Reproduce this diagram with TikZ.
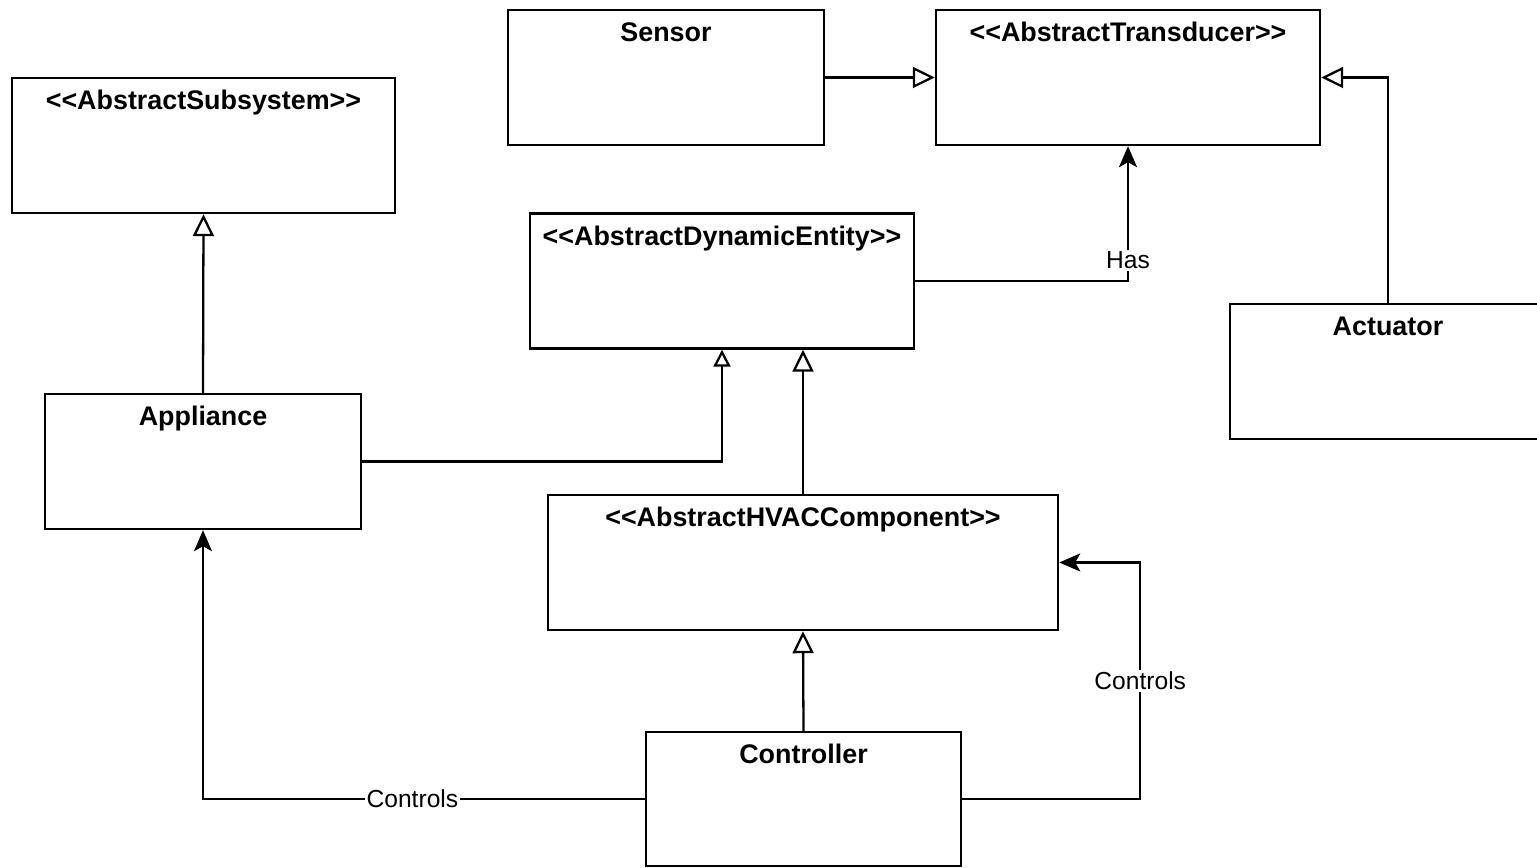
\documentclass[tikz,border=0pt]{standalone}
\usepackage{fontspec}
\setmainfont{Liberation Sans}[Ligatures=TeXOff]
\usetikzlibrary{arrows.meta}

\tikzset{
  classbox/.style={draw, line width=1.4pt, minimum height=2.70cm, inner sep=0pt},
  classname/.style={anchor=base, font=\fontsize{15.3}{18}\selectfont\bfseries},
  inherit/.style={line width=1.3pt, -{Triangle[open, length=0.44cm, width=0.42cm, line width=1.3pt]}},
  inheritsmall/.style={line width=1.3pt, -{Triangle[open, length=0.34cm, width=0.34cm, line width=1.3pt]}},
  assoc/.style={line width=1.3pt, -{Stealth[length=0.42cm, width=0.36cm, inset=0.1cm]}},
  lbl/.style={fill=white, inner sep=1pt, font=\fontsize{14}{16}\selectfont}
}

\begin{document}
\begin{tikzpicture}
\useasboundingbox (0,0) rectangle (30.74,17.36);

% classes
\node[classbox, minimum width=6.32cm] (sensor) at (13.32,15.81) {};
\node[classbox, minimum width=7.68cm] (trans) at (22.56,15.81) {};
\node[classbox, minimum width=7.66cm] (subsys) at (4.07,14.45) {};
\node[classbox, minimum width=7.68cm] (dyn) at (14.44,11.74) {};
\node[classbox, minimum width=6.32cm] (actuator) at (27.76,9.93) {};
\node[classbox, minimum width=6.32cm] (appliance) at (4.06,8.13) {};
\node[classbox, minimum width=10.20cm] (hvac) at (16.06,6.11) {};
\node[classbox, minimum width=6.30cm, minimum height=2.68cm] (controller) at (16.07,1.38) {};

\node[classname] (sensor-t) at ([yshift=-0.66cm]sensor.north) {Sensor};
\node[classname] (trans-t) at ([yshift=-0.66cm]trans.north) {<<AbstractTransducer>>};
\node[classname] (subsys-t) at ([yshift=-0.66cm]subsys.north) {<<AbstractSubsystem>>};
\node[classname] (dyn-t) at ([yshift=-0.66cm]dyn.north) {<<AbstractDynamicEntity>>};
\node[classname] (actuator-t) at ([yshift=-0.66cm]actuator.north) {Actuator};
\node[classname] (appliance-t) at ([yshift=-0.66cm]appliance.north) {Appliance};
\node[classname] (hvac-t) at ([yshift=-0.66cm]hvac.north) {<<AbstractHVACComponent>>};
\node[classname] (controller-t) at ([yshift=-0.66cm]controller.north) {Controller};

% generalisations
\draw[inherit] (sensor.east) -- (trans.west);
\draw[inherit] (actuator.north) |- (trans.east);
\draw[inherit] (appliance.north) -- (subsys.south);
\draw[inheritsmall] (appliance.east) -| (dyn.south);
\draw[inherit] (hvac.north) -- (hvac.north |- dyn.south);
\draw[inherit] (controller.north) -- (hvac.south);

% associations
\draw[assoc] (dyn.east) -| node[lbl, pos=0.577] (has) {Has} (trans.south);
\draw[assoc] (controller.east) -- ++(3.56,0) coordinate (ctrlbend)
  |- node[lbl, pos=0.25] (controls-r) {Controls} (hvac.east);
\draw[assoc] (controller.west) -| node[lbl, pos=0.263] (controls-l) {Controls} (appliance.south);
\end{tikzpicture}
\end{document}
